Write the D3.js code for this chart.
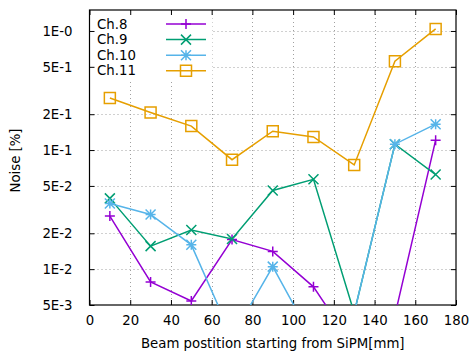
<!DOCTYPE html>
<html>
<head>
<meta charset="utf-8">
<script src="https://cdn.jsdelivr.net/npm/d3@7"></script>
<style>
  body { margin: 0; background: #fff; }
  svg { display: block; font-family: "DejaVu Sans", sans-serif; }
</style>
</head>
<body>
<div id="chart"></div>
<script>
// beam position along the bar (mm)
var positions = [10, 30, 50, 70, 90, 110, 130, 150, 170];
// noise in percent, per channel
var ch8  = [0.0279, 0.0078, 0.0054, 0.0177, 0.0141, 0.0071, 0.0022, 0.0041, 0.121];
var ch9  = [0.0393, 0.0156, 0.0213, 0.0179, 0.0458, 0.0568, 0.0043, 0.112, 0.0623];
var ch10 = [0.0356, 0.0288, 0.016, 0.0027, 0.0105, 0.0025, 0.0043, 0.112, 0.165];
var ch11 = [0.274, 0.207, 0.159, 0.083, 0.144, 0.129, 0.075, 0.557, 1.04];
var channelNames = ["Ch.8", "Ch.9", "Ch.10", "Ch.11"];

var xTicks = [0, 20, 40, 60, 80, 100, 120, 140, 160, 180];
var yTicks = [0.005, 0.01, 0.02, 0.05, 0.1, 0.2, 0.5, 1];
var yTickLabels = ["5E-3", "1E-2", "2E-2", "5E-2", "1E-1", "2E-1", "5E-1", "1E-0"];

var series = [
  {name: channelNames[0], values: ch8,  color: "#9400d3", marker: "plus"},
  {name: channelNames[1], values: ch9,  color: "#009e73", marker: "cross"},
  {name: channelNames[2], values: ch10, color: "#56b4e9", marker: "star"},
  {name: channelNames[3], values: ch11, color: "#e69f00", marker: "square"}
];

var W = 472, H = 352;
var fs = "13.3px";
// plot box edges (window.top is reserved, so keep them in an object)
var box = {l: 89.5, r: 456, t: 10, b: 305};

var svg = d3.select("#chart").append("svg")
            .attr("width", W)
            .attr("height", H);

var x = d3.scaleLinear().domain([0, 180]).range([box.l, box.r]);
var y = d3.scaleLog().domain([0.005, 1.5]).range([box.b, box.t]);

// grid
var grid = svg.append("g")
            .attr("stroke", "#a0a0a0")
            .attr("stroke-width", 1)
            .attr("stroke-dasharray", "1,3");
grid.selectAll(".gx").data(xTicks.slice(1, -1)).enter().append("line")
            .attr("x1", d => Math.round(x(d)) + 0.5)
            .attr("x2", d => Math.round(x(d)) + 0.5)
            .attr("y1", box.t).attr("y2", box.b);
grid.selectAll(".gy").data(yTicks.slice(1)).enter().append("line")
            .attr("x1", box.l).attr("x2", box.r)
            .attr("y1", d => Math.round(y(d)) + 0.5)
            .attr("y2", d => Math.round(y(d)) + 0.5);

// key box is opaque, hides the grid behind it
svg.append("rect")
            .attr("x", box.l + 1).attr("y", box.t + 1)
            .attr("width", 122).attr("height", 70)
            .attr("fill", "#fff");

// axes
var tickLen = 5;
var xAxisB = d3.axisBottom(x).tickValues(xTicks).tickSize(-tickLen).tickPadding(11);
var xAxisT = d3.axisTop(x).tickValues(xTicks).tickSize(-tickLen).tickFormat("");
var yAxisL = d3.axisLeft(y).tickValues(yTicks).tickSize(-tickLen).tickPadding(17)
            .tickFormat((d, i) => yTickLabels[i]);
var yAxisR = d3.axisRight(y).tickValues(yTicks).tickSize(-tickLen).tickFormat("");

function styleAxis(g) {
  g.select(".domain").remove();
  g.selectAll("line").attr("stroke", "#000");
  g.selectAll("text").attr("fill", "#000").style("font-size", fs)
            .style("font-family", "DejaVu Sans, sans-serif");
}
svg.append("g").attr("transform", "translate(0," + box.b + ")").call(xAxisB).call(styleAxis);
svg.append("g").attr("transform", "translate(0," + box.t + ")").call(xAxisT).call(styleAxis);
svg.append("g").attr("transform", "translate(" + box.l + ",0)").call(yAxisL).call(styleAxis);
svg.append("g").attr("transform", "translate(" + box.r + ",0)").call(yAxisR).call(styleAxis);

svg.append("rect")
            .attr("x", box.l).attr("y", box.t)
            .attr("width", box.r - box.l).attr("height", box.b - box.t)
            .attr("fill", "none").attr("stroke", "#000").attr("stroke-width", 1.2);

// axis titles
svg.append("text")
            .attr("x", (box.l + box.r) / 2).attr("y", 348)
            .attr("text-anchor", "middle")
            .style("font-size", fs)
            .text("Beam postition starting from SiPM[mm]");
svg.append("text")
            .attr("transform", "translate(20," + ((box.t + box.b) / 2 + 3) + ") rotate(-90)")
            .attr("text-anchor", "middle")
            .style("font-size", fs)
            .text("Noise [%]");

// markers
function drawMarker(g, type, color, s) {
  var p = g.append("path").attr("fill", "none").attr("stroke", color).attr("stroke-width", 1.5);
  if (type == "plus") p.attr("d", `M${-s},0H${s}M0,${-s}V${s}`);
  if (type == "cross") p.attr("d", `M${-s},${-s}L${s},${s}M${-s},${s}L${s},${-s}`);
  if (type == "star") p.attr("d", `M${-s},0H${s}M0,${-s}V${s}M${-s},${-s}L${s},${s}M${-s},${s}L${s},${-s}`);
  if (type == "square") p.attr("d", `M${-s},${-s}H${s}V${s}H${-s}Z`);
}

svg.append("clipPath").attr("id", "plotclip").append("rect")
            .attr("x", box.l).attr("y", box.t)
            .attr("width", box.r - box.l).attr("height", box.b - box.t);

var line = d3.line().x(d => x(d[0])).y(d => y(d[1]));
var plot = svg.append("g").attr("clip-path", "url(#plotclip)");

series.forEach(function(s) {
  var pts = positions.map((p, i) => [p, s.values[i]]);
  plot.append("path")
            .datum(pts)
            .attr("d", line)
            .attr("fill", "none")
            .attr("stroke", s.color)
            .attr("stroke-width", 1.5);
  pts.filter(d => d[1] >= 0.005 && d[1] <= 1.5).forEach(function(d) {
    var g = plot.append("g").attr("transform", "translate(" + x(d[0]) + "," + y(d[1]) + ")");
    drawMarker(g, s.marker, s.color, s.marker == "square" ? 5.5 : 5);
  });
});

// key
series.forEach(function(s, i) {
  var ky = 24 + i * 15.6;
  svg.append("text")
            .attr("x", 97).attr("y", ky + 4.5)
            .style("font-size", fs)
            .text(s.name);
  svg.append("line")
            .attr("x1", 166).attr("x2", 206)
            .attr("y1", ky).attr("y2", ky)
            .attr("stroke", s.color).attr("stroke-width", 1.5);
  var g = svg.append("g").attr("transform", "translate(186," + ky + ")");
  drawMarker(g, s.marker, s.color, s.marker == "square" ? 5.5 : 5);
});
</script>
</body>
</html>
